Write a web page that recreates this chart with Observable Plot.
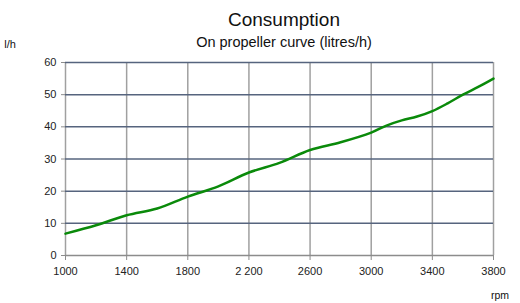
<!DOCTYPE html>
<html>
<head>
<meta charset="utf-8">
<script src="https://cdn.jsdelivr.net/npm/d3@7"></script>
<script src="https://cdn.jsdelivr.net/npm/@observablehq/plot@0.6"></script>
<style>
html,body{margin:0;padding:0;background:#fff;}
#chart{width:520px;height:303px;}
</style>
</head>
<body>
<div id="chart"></div>
<script>
const rpm = [1000,1200,1400,1600,1800,2000,2200,2400,2600,2800,3000,3100,3200,3300,3400,3500,3600,3700,3800];
const litres = [6.8,9.4,12.5,14.6,18.3,21.5,25.8,28.8,32.8,35.2,38.2,40.4,42.0,43.2,44.9,47.3,50.0,52.4,55.0];
const xTicks = [1000,1400,1800,2200,2600,3000,3400,3800];
const xTickLabels = ["1000","1400","1800","2 200","2600","3000","3400","3800"];
const yTicks = [0,10,20,30,40,50,60];
const yGrid = [10,20,30,40,50,60];

const data = rpm.map((r,i)=>({rpm:r, lh:litres[i]}));
const font = "'Liberation Sans', Arial, sans-serif";

const chart = Plot.plot({
  width: 520,
  height: 303,
  marginLeft: 65,
  marginRight: 27,
  marginTop: 62,
  marginBottom: 48,
  style: {fontFamily: font, fontSize: "11px", color: "#222", background: "#fff"},
  x: {domain: [1000,3800], axis: null},
  y: {domain: [0,60], axis: null},
  marks: [
    Plot.ruleX(xTicks, {stroke: "#a0a0a0", strokeWidth: 1.5}),
    Plot.ruleY(yGrid, {stroke: "#56647e", strokeWidth: 1.5}),
    Plot.ruleY([0], {stroke: "#8c8c8c", strokeWidth: 1.5}),
    Plot.axisX({ticks: xTicks, tickFormat: (d,i)=>xTickLabels[xTicks.indexOf(d)], tickSize: 5, tickPadding: 7, stroke: "#8c8c8c", label: null, fontSize: 11}),
    Plot.axisY({ticks: yTicks, tickSize: 4, tickPadding: 5, stroke: "#8c8c8c", label: null, fontSize: 11}),
    Plot.line(data, {x: "rpm", y: "lh", curve: "catmull-rom", stroke: "#0a8a0a", strokeWidth: 2.5})
  ]
});

const svg = d3.select(chart);
svg.append("text").attr("x", 284).attr("y", 26).attr("text-anchor", "middle")
  .attr("font-family", font).attr("font-size", 19).attr("fill", "#111").text("Consumption");
svg.append("text").attr("x", 284).attr("y", 47).attr("text-anchor", "middle")
  .attr("font-family", font).attr("font-size", 14.5).attr("fill", "#111").text("On propeller curve (litres/h)");
svg.append("text").attr("x", 10).attr("y", 48)
  .attr("font-family", font).attr("font-size", 11).attr("fill", "#111").text("l/h");
svg.append("text").attr("x", 500).attr("y", 299)
  .attr("font-family", font).attr("font-size", 10.5).attr("fill", "#111").text("rpm");

document.getElementById("chart").appendChild(chart);
</script>
</body>
</html>
